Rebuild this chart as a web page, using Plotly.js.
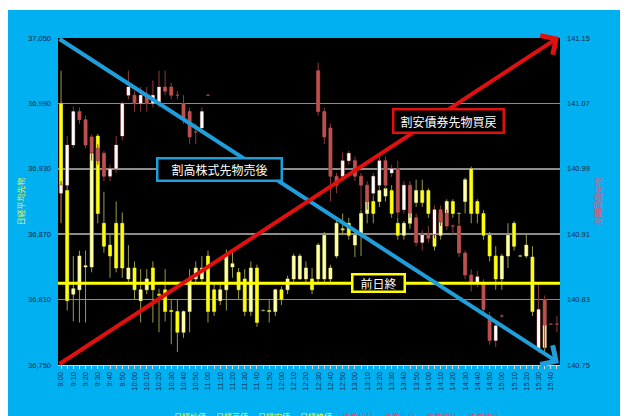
<!DOCTYPE html>
<html><head><meta charset="utf-8">
<script src="https://cdn.plot.ly/plotly-3.0.1.min.js"></script>
<style>
html,body{margin:0;padding:0;background:#ffffff;overflow:hidden;width:640px;height:416px}
#chart{position:absolute;left:8px;top:10px;width:612px;height:420px}
</style>
</head><body><div id="chart"></div>
<script>
const times = ["9:00","9:05","9:10","9:15","9:20","9:25","9:30","9:35","9:40","9:45","9:50","9:55",
"10:00","10:05","10:10","10:15","10:20","10:25","10:30","10:35","10:40","10:45","10:50","10:55",
"11:00","11:05","11:10","11:15","11:20","11:25","11:30","11:35","11:40","11:45","11:50","11:55",
"12:00","12:05","12:10","12:15","12:20","12:25","12:30","12:35","12:40","12:45","12:50","12:55",
"13:00","13:05","13:10","13:15","13:20","13:25","13:30","13:35","13:40","13:45","13:50","13:55",
"14:00","14:05","14:10","14:15","14:20","14:25","14:30","14:35","14:40","14:45","14:50","14:55",
"15:00","15:05","15:10","15:15","15:20","15:25","15:30","15:35","15:40","15:45"];

// 日経平均先物 (left axis)
const nkOpen  = [36990,36910,36815,36819,36840,36840,36960,36880,36860,36880,36880,36829,36839,36809,36819,36839,36815,36819,36800,36799,36780,36799,36829,36829,36850,36819,36809,36819,36840,36835,36829,36799,36839,36800,36800,36799,36819,36819,36829,36829,36829,36829,36829,36829,36829,36850,36875,36880,36860,36869,36889,36900,36900,36905,36910,36880,36869,36880,36899,36910,36910,36869,36869,36889,36900,36889,36900,36930,36900,36889,36869,36850,36829,36850,36880,36850,36850,36849,null,36766,null,null];
const nkHigh  = [37020,36915,36850,36855,36855,36950,36962,36909,36870,36900,36890,36860,36845,36838,36838,36845,36820,36838,36810,36810,36800,36838,36845,36850,36855,36825,36825,36856,36855,36839,36838,36845,36842,36801,36810,36820,36822,36832,36852,36852,36845,36839,36862,36872,36842,36882,36889,36885,36872,36892,36905,36905,36915,36915,36915,36885,36882,36900,36920,36920,36912,36872,36892,36902,36902,36890,36922,36932,36902,36892,36872,36859,36852,36880,36882,36851,36870,36859,null,36790,null,null];
const nkLow   = [36880,36800,36790,36789,36789,36835,36880,36853,36830,36835,36830,36825,36810,36789,36815,36789,36780,36790,36769,36762,36775,36780,36825,36825,36789,36795,36805,36800,36830,36810,36795,36795,36785,36799,36789,36795,36805,36815,36825,36828,36825,36815,36825,36825,36825,36848,36869,36865,36849,36850,36880,36880,36895,36900,36885,36865,36865,36875,36895,36895,36885,36855,36865,36885,36885,36880,36889,36880,36880,36865,36845,36819,36819,36839,36855,36849,36848,36795,null,36760,null,null];
const nkClose = [36915,36809,36820,36850,36841,36944,36889,36859,36850,36839,36839,36839,36819,36819,36829,36819,36814,36799,36799,36780,36799,36829,36839,36839,36799,36799,36819,36850,36843,36819,36799,36839,36789,36800,36799,36819,36810,36829,36850,36850,36839,36819,36860,36869,36839,36880,36874,36869,36869,36889,36900,36889,36910,36912,36889,36869,36880,36895,36910,36899,36889,36859,36889,36900,36889,36889,36920,36889,36889,36869,36850,36829,36850,36869,36859,36850,36860,36799,null,36787,null,null];

// 債券先物 (right axis)
const bdOpen  = [140.96,140.97,141.019,141.06,141.05,141.029,141.015,141.009,140.981,140.99,141.03,141.08,141.08,141.07,141.08,141.07,141.07,141.09,141.09,141.08,141.07,141.06,141.035,141.04,141.08,null,null,null,null,null,null,null,null,null,null,null,null,null,null,null,null,null,141.11,141.06,141.04,140.981,140.981,141.0,141.0,140.981,140.97,140.96,140.97,141.0,140.985,140.99,140.94,140.97,140.93,140.9,140.909,140.91,140.94,140.935,140.92,140.92,140.887,140.86,140.85,140.85,140.81,140.78,140.81,null,null,null,null,null,140.77,140.83,140.80,140.80];
const bdHigh  = [140.975,141.03,141.066,141.065,141.055,141.032,141.02,141.012,140.995,141.03,141.072,141.11,141.085,141.09,141.09,141.098,141.11,141.11,141.095,141.085,141.08,141.065,141.045,141.065,141.081,null,null,null,null,null,null,null,null,null,null,null,null,null,null,null,null,null,141.12,141.065,141.045,140.985,141.01,141.012,141.005,140.985,140.975,140.985,141.005,141.005,140.995,141.0,140.975,140.975,140.935,140.915,140.92,140.945,140.945,140.94,140.922,140.925,140.89,140.867,140.865,140.855,140.815,140.805,140.812,null,null,null,null,null,140.85,140.835,140.801,140.81];
const bdLow   = [140.925,140.965,141.015,141.045,141.015,141.0,140.995,140.975,140.975,140.985,141.025,141.075,141.06,141.06,141.06,141.065,141.065,141.08,141.075,141.075,141.045,141.02,141.02,141.035,141.079,null,null,null,null,null,null,null,null,null,null,null,null,null,null,null,null,null,141.055,141.02,140.95,140.96,140.975,140.995,140.975,140.94,140.94,140.955,140.965,140.965,140.98,140.93,140.935,140.93,140.895,140.89,140.9,140.905,140.92,140.915,140.91,140.882,140.855,140.84,140.845,140.81,140.775,140.772,140.808,null,null,null,null,null,140.765,140.77,140.799,140.79];
const bdClose = [140.97,141.019,141.06,141.05,141.019,141.01,141.0,140.981,140.99,141.019,141.07,141.09,141.07,141.08,141.07,141.08,141.09,141.085,141.08,141.08,141.05,141.029,141.035,141.06,141.08,null,null,null,null,null,null,null,null,null,null,null,null,null,null,null,null,null,141.06,141.029,140.981,140.97,141.0,141.009,140.981,140.97,140.95,140.981,141.0,140.97,140.99,140.937,140.97,140.936,140.9,140.909,140.905,140.94,140.925,140.92,140.92,140.887,140.86,140.85,140.858,140.818,140.78,140.798,140.81,null,null,null,null,null,140.818,140.799,140.80,140.80];

const prevClose = 36825;
const leftTicks = [36750, 36810, 36870, 36930, 36990, 37050];
const rightTicks = [140.75, 140.83, 140.91, 140.99, 141.07, 141.15];
const legendNames = ["日経始値","日経高値","日経安値","日経終値","債券始値","債券高値","債券安値","債券終値"];

function bodyTop(o,c){return o.map((v,i)=> v==null?null:Math.max(v,c[i]));}
function bodyBot(o,c){return o.map((v,i)=> v==null?null:Math.min(v,c[i]));}

function pair(o,h,l,c,yax,wick,inc,dec){
  const w = {type:'candlestick', x:times, open:o, high:h, low:l, close:c, yaxis:yax,
    whiskerwidth:0, showlegend:false, hoverinfo:'skip',
    increasing:{line:{color:wick,width:1},fillcolor:wick},
    decreasing:{line:{color:wick,width:1},fillcolor:wick}};
  const b = {type:'candlestick', x:times, open:o, high:bodyTop(o,c), low:bodyBot(o,c), close:c, yaxis:yax,
    whiskerwidth:0, showlegend:false, hoverinfo:'skip',
    increasing:{line:{color:inc,width:0},fillcolor:inc},
    decreasing:{line:{color:dec,width:0},fillcolor:dec}};
  return [w,b];
}

const data = [
  ...pair(nkOpen,nkHigh,nkLow,nkClose,'y','#9a9a4c','#ffffa6','#ffff00'),
  ...pair(bdOpen,bdHigh,bdLow,bdClose,'y2','#8a3c3a','#ffffff','#c0504d')
];

const tickFont = {family:'Liberation Sans, Arial', size:7.5, color:'#1c2a4a'};
const px = v => (v-58)/502, py = v => (365-v)/327;

const annotations = [
  {xref:'paper',yref:'paper',x:px(559),y:py(363),axref:'pixel',ayref:'pixel',ax:-501,ay:-325,
   text:'',showarrow:true,arrowhead:4,arrowsize:1.1,arrowwidth:4,arrowcolor:'#1e9fdc'},
  {xref:'paper',yref:'paper',x:px(559),y:py(37),axref:'pixel',ayref:'pixel',ax:-501,ay:328,
   text:'',showarrow:true,arrowhead:4,arrowsize:1.1,arrowwidth:4,arrowcolor:'#e01010'},
  {xref:'paper',yref:'paper',x:px(219),y:py(169),xanchor:'center',yanchor:'middle',text:'割高株式先物売後',showarrow:false,
   font:{family:'Noto Sans CJK JP',size:12,color:'#ffffff'},bgcolor:'#000000',bordercolor:'#1e9fdc',
   borderwidth:2.5,borderpad:2,width:118,height:16},
  {xref:'paper',yref:'paper',x:px(448.5),y:py(120.5),xanchor:'center',yanchor:'middle',text:'割安債券先物買戻',showarrow:false,
   font:{family:'Noto Sans CJK JP',size:12,color:'#ffffff'},bgcolor:'#000000',bordercolor:'#e01010',
   borderwidth:2.5,borderpad:2,width:104,height:17},
  {xref:'paper',yref:'y',x:px(378.5),y:prevClose,xanchor:'center',yanchor:'middle',text:'前日終',showarrow:false,
   font:{family:'Noto Sans CJK JP',size:12,color:'#ffffff'},bgcolor:'#000000',bordercolor:'#ffff00',
   borderwidth:2.5,borderpad:1,width:48,height:13}
];
const legX = [172,214,256,298,340,382,424,466];
legendNames.forEach((n,i)=>{
  annotations.push({xref:'paper',yref:'paper',x:px(legX[i]),y:py(409),xanchor:'left',yanchor:'top',
    text:n,showarrow:false,font:{family:'Noto Sans CJK JP',size:8,color: i<4?'#ffff33':'#e2456e'}});
});

const layout = {
  width:612, height:420,
  margin:{l:50,r:60,t:28,b:65,pad:0},
  paper_bgcolor:'#00b0f0', plot_bgcolor:'#000000',
  showlegend:false,
  xaxis:{type:'category', range:[-0.5,81.5], tickmode:'array', tickvals:times,
    ticktext:times.map((t,i)=> i%2===0 ? t : ''), tickangle:-90, tickfont:tickFont,
    ticks:'outside', ticklen:3, tickcolor:'#d8d8d8', showgrid:false,
    showline:true, linecolor:'#cfcfcf', linewidth:1, zeroline:false,
    rangeslider:{visible:false}, fixedrange:true},
  yaxis:{range:[36750,37050], tickmode:'array', tickvals:leftTicks, tickformat:',d', tickfont:tickFont,
    showgrid:true, gridcolor:'#8c8c8c', gridwidth:1.5, zeroline:false, ticks:'', ticklabelstandoff:6,
    title:{text:'日経平均先物', font:{family:'Noto Sans CJK JP',size:8,color:'#e4ef5e'}, standoff:2}},
  yaxis2:{range:[140.75,141.15], overlaying:'y', side:'right', tickmode:'array', tickvals:rightTicks,
    tickformat:'.2f', tickfont:tickFont, showgrid:false, zeroline:false, ticks:'', ticklabelstandoff:6,
    title:{text:'長期国債先物', font:{family:'Noto Sans CJK JP',size:8,color:'#e0587a'}, standoff:6}},
  shapes:[{type:'line', xref:'paper', x0:0, x1:1, yref:'y', y0:prevClose, y1:prevClose,
    line:{color:'#ffff00', width:3}, layer:'above'}],
  annotations:annotations
};

Plotly.newPlot('chart', data, layout, {displayModeBar:false, staticPlot:true});
</script>
</body></html>
